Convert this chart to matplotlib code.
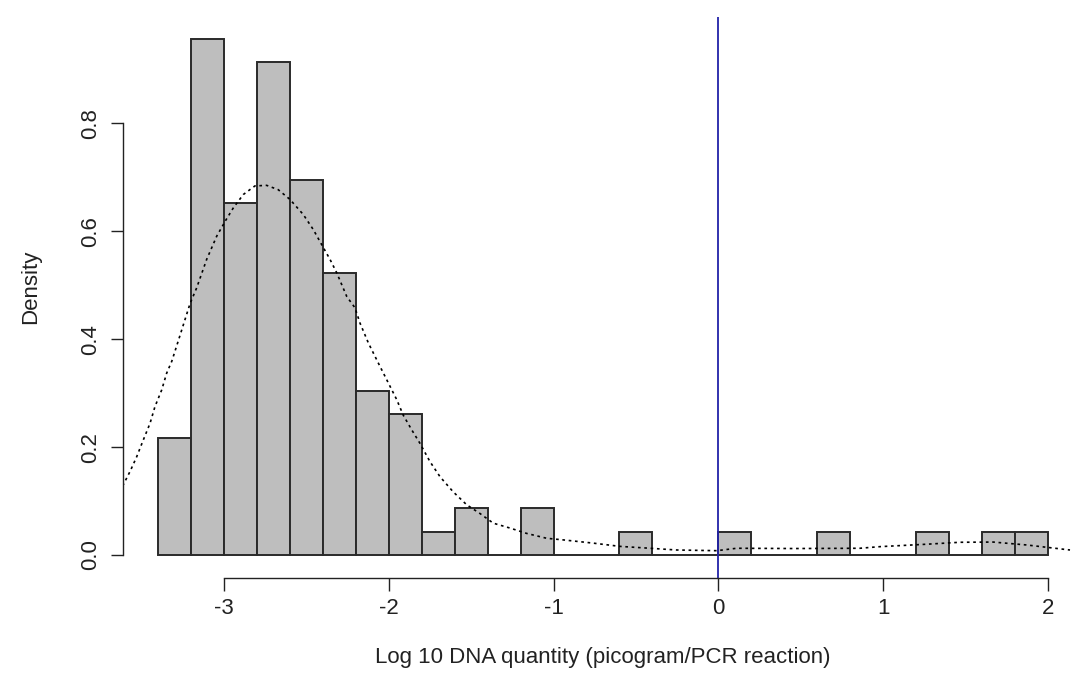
import matplotlib
matplotlib.use("Agg")
import matplotlib.pyplot as plt
import numpy as np
from matplotlib.lines import Line2D
from matplotlib.transforms import blended_transform_factory

plt.rcParams['font.family'] = ['Liberation Sans', 'DejaVu Sans']

# Histogram bins (log10 DNA quantity) and counts per bin
breaks = [-3.4, -3.2, -3.0, -2.8, -2.6, -2.4, -2.2, -2.0, -1.8, -1.6, -1.4,
          -1.2, -1.0, -0.8, -0.6, -0.4, -0.2, 0.0, 0.2, 0.4, 0.6, 0.8, 1.0,
          1.2, 1.4, 1.6, 1.8, 2.0]
counts = [5, 22, 15, 21, 16, 12, 7, 6, 1, 2, 0, 2, 0, 0, 1, 0, 0, 1, 0, 0,
          1, 0, 0, 1, 0, 1, 1]

# Density curve
kde_x = [-3.615, -3.570, -3.530, -3.490, -3.449, -3.419, -3.378, -3.348,
         -3.317, -3.267, -3.206, -3.166, -3.105, -3.044, -2.990, -2.944,
         -2.883, -2.812, -2.741, -2.671, -2.600, -2.519, -2.458, -2.407,
         -2.357, -2.316, -2.255, -2.205, -2.175, -2.124, -2.064, -2.003,
         -1.952, -1.912, -1.861, -1.811, -1.750, -1.689, -1.609, -1.527,
         -1.447, -1.366, -1.265, -1.163, -1.042, -0.941, -0.880, -0.759,
         -0.597, -0.415, -0.253, -0.010, 0.111, 0.455, 0.859, 0.981,
         1.264, 1.466, 1.668, 1.871, 2.134]
kde_y = [0.128, 0.155, 0.182, 0.213, 0.244, 0.275, 0.306, 0.337,
         0.359, 0.407, 0.466, 0.495, 0.548, 0.591, 0.620, 0.643,
         0.668, 0.684, 0.685, 0.677, 0.659, 0.631, 0.603, 0.575,
         0.548, 0.523, 0.479, 0.458, 0.430, 0.393, 0.356, 0.319,
         0.288, 0.259, 0.232, 0.207, 0.173, 0.145, 0.117, 0.093,
         0.077, 0.059, 0.050, 0.040, 0.031, 0.028, 0.026, 0.022,
         0.016, 0.0125, 0.0093, 0.008, 0.0125, 0.012, 0.0125, 0.0155,
         0.020, 0.0236, 0.024, 0.0186, 0.0093]

vline_x = 0.0
x_ticks = [-3, -2, -1, 0, 1, 2]
y_ticks = [0.0, 0.2, 0.4, 0.6, 0.8]
x_label = "Log 10 DNA quantity (picogram/PCR reaction)"
y_label = "Density"

W, H = 1071, 691
fig = plt.figure(figsize=(W / 100, H / 100), dpi=100)
# plot region in pixels
left_px, right_px, top_px, bottom_px = 122.5, 1071, 17, 578
ax = fig.add_axes([left_px / W, 1 - bottom_px / H,
                   (right_px - left_px) / W, (bottom_px - top_px) / H])

edges = np.array(breaks)
widths = np.diff(edges)
cnt = np.array(counts, dtype=float)
dens = cnt / (cnt.sum() * widths)

ax.bar(edges[:-1], dens, width=widths, align='edge', color='#BEBEBE',
       edgecolor='#2a2a2a', linewidth=1.4)
ax.plot(kde_x, kde_y, color='black', linewidth=1.2, linestyle=(0, (1.6, 2.2)))
ax.axvline(vline_x, color='#2222A8', linewidth=1.3)

ax.set_xlim(-3.616, 2.14)
ax.set_ylim(-0.0426, 0.997)

for s in ax.spines.values():
    s.set_visible(False)

fs = 16
tcol = '#222222'
ax.set_xticks(x_ticks)
ax.set_yticks(y_ticks)
ax.set_xticklabels([])
ax.set_yticklabels([])
ax.tick_params(axis='both', length=9, width=1, color=tcol)

# R style axis lines spanning the tick range
ax.add_line(Line2D([x_ticks[0], x_ticks[-1]], [0, 0], color=tcol, lw=1,
                   transform=ax.get_xaxis_transform(), clip_on=False))
ax.add_line(Line2D([0, 0], [y_ticks[0], y_ticks[-1]], color=tcol, lw=1,
                   transform=ax.get_yaxis_transform(), clip_on=False))

# tick labels
tx = blended_transform_factory(ax.transData, fig.transFigure)
for t in x_ticks:
    ax.text(t, 1 - 609 / H, str(t), transform=tx, ha='center', va='center',
            fontsize=fs, color=tcol)
ty = blended_transform_factory(fig.transFigure, ax.transData)
for t in y_ticks:
    ax.text(91 / W, t, f"{t:.1f}", transform=ty, ha='center', va='center',
            rotation=90, fontsize=fs, color=tcol)

fig.text(0.5 * (122.5 + 1083.6) / W, 1 - 657 / H, x_label, ha='center',
         va='center', fontsize=fs, color=tcol)
fig.text(31 / W, 1 - 287 / H, y_label, ha='center', va='center',
         rotation=90, fontsize=fs, color=tcol)

fig.savefig("out.png", dpi=100)
